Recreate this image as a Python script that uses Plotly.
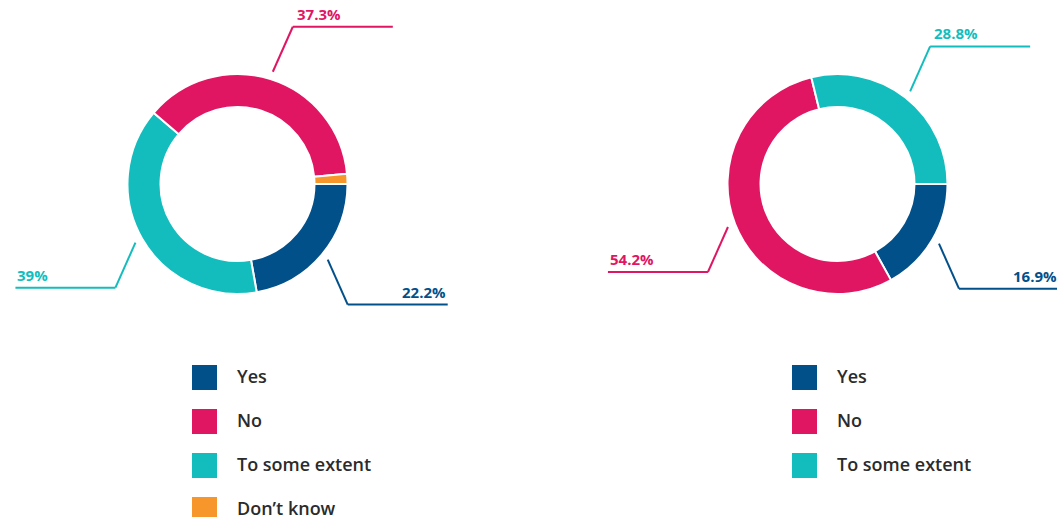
import numpy as np
import plotly.graph_objects as go

# data - order is clockwise from 3 o'clock
left_labels = ["Yes", "To some extent", "No", "Don’t know"]
left_values = [22.2, 39.0, 37.3, 1.5]
right_labels = ["Yes", "No", "To some extent"]
right_values = [16.9, 54.2, 28.8]

# legend order
left_legend = ["Yes", "No", "To some extent", "Don’t know"]
right_legend = ["Yes", "No", "To some extent"]

colors = {"Yes": "#02508a", "No": "#e01662", "To some extent": "#13bdbd", "Don’t know": "#f6962b"}

W, H = 1057, 517
R = 110
font = "Open Sans, Noto Sans, sans-serif"


def px(x):
    return x / W


def py(y):
    return 1 - y / H


fig = go.Figure()
shapes = []
annots = []

charts = [(237.5, 184, left_labels, left_values, left_legend, 192),
          (837.5, 184, right_labels, right_values, right_legend, 792)]

for cx, cy, labels, values, legend, lx in charts:
    fig.add_trace(go.Pie(
        labels=labels, values=values, sort=False, direction="clockwise", rotation=90,
        hole=0.7, textinfo="none", showlegend=False, hoverinfo="label+value",
        marker=dict(colors=[colors[l] for l in labels], line=dict(color="white", width=2)),
        domain=dict(x=[px(cx - R), px(cx + R)], y=[py(cy + R), py(cy - R)]),
    ))

    # leader lines + percent labels
    total = sum(values)
    cum = 0
    for lab, val in zip(labels, values):
        mid = (cum + val / 2) / total * 360
        cum += val
        if val < 5:
            continue
        ang = np.radians(-mid)  # clockwise from east
        sx = cx + 1.07 * R * np.cos(ang)
        sy = cy - 1.07 * R * np.sin(ang)
        dx = 20 if np.cos(ang) >= 0 else -20
        dy = -45 if np.sin(ang) >= 0 else 45
        ex, ey = sx + dx, sy + dy
        hx = ex + (100 if dx > 0 else -100)
        col = colors[lab]
        for (x0, y0, x1, y1) in [(sx, sy, ex, ey), (ex, ey, hx, ey)]:
            shapes.append(dict(type="line", xref="paper", yref="paper",
                               x0=px(x0), y0=py(y0), x1=px(x1), y1=py(y1),
                               line=dict(color=col, width=2)))
        txt = f"{val:g}%"
        if dy < 0:
            # top labels sit just after the elbow
            tx, anchor = (ex + 2, "left") if dx > 0 else (ex - 2, "right")
        else:
            tx, anchor = (hx, "right") if dx > 0 else (hx, "left")
        annots.append(dict(x=px(tx), y=py(ey - 1), xref="paper", yref="paper",
                           text=f"<b>{txt}</b>", showarrow=False, xanchor=anchor, yanchor="bottom",
                           font=dict(family=font, size=15, color=col)))

    # custom legend
    for i, lab in enumerate(legend):
        y0 = 365 + i * 44
        shapes.append(dict(type="rect", xref="paper", yref="paper",
                           x0=px(lx), x1=px(lx + 25), y0=py(y0), y1=py(y0 + 25),
                           fillcolor=colors[lab], line=dict(width=0)))
        annots.append(dict(x=px(lx + 43), y=py(y0 + 11), xref="paper", yref="paper",
                           text=lab, showarrow=False, xanchor="left", yanchor="middle",
                           font=dict(family=font, size=18, color="#2b2b2b", weight=600)))

fig.update_layout(
    width=W, height=H,
    margin=dict(l=0, r=0, t=0, b=0),
    paper_bgcolor="white", plot_bgcolor="white",
    shapes=shapes, annotations=annots,
)

# drop the default page margin so the figure fills the window
fig.write_html("out.html", config={"displayModeBar": False},
               post_script="document.body.style.margin='0';document.body.style.overflow='hidden';")
